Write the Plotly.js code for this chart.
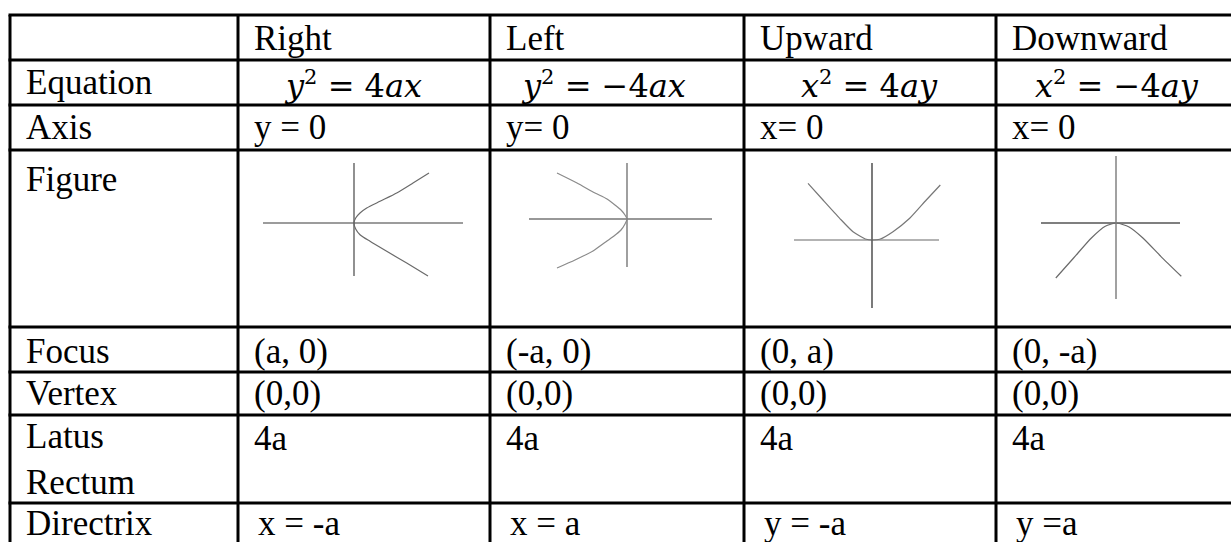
<!DOCTYPE html>
<html>
<head>
<meta charset="utf-8">
<script src="https://cdn.plot.ly/plotly-3.0.1.min.js"></script>
<style>
html,body{margin:0;padding:0;background:#fff;}
#chart{width:1231px;height:542px;}
</style>
</head>
<body>
<div id="chart"></div>
<script>
// ---------- table content ----------
const rowLabels = ["", "Equation", "Axis", "Figure", "Focus", "Vertex", "Latus<br>Rectum", "Directrix"];
const headers = ["Right", "Left", "Upward", "Downward"];
const equations = [
  "<i>y</i><sup><span style=\"font-size:21px\">2</span></sup> = 4<i>ax</i>",
  "<i>y</i><sup><span style=\"font-size:21px\">2</span></sup> = \u22124<i>ax</i>",
  "<i>x</i><sup><span style=\"font-size:21px\">2</span></sup> = 4<i>ay</i>",
  "<i>x</i><sup><span style=\"font-size:21px\">2</span></sup> = \u22124<i>ay</i>"
];
const axisVals = ["y = 0", "y= 0", "x= 0", "x= 0"];
const focusVals = ["(a, 0)", "(-a, 0)", "(0, a)", "(0, -a)"];
const vertexVals = ["(0,0)", "(0,0)", "(0,0)", "(0,0)"];
const latusVals = ["4a", "4a", "4a", "4a"];
const directrixVals = ["x = -a", "x = a", "y = -a", "y =a"];

// ---------- figure sketches (units relative to vertex, y up) ----------
const rightAxisH = {x: [-91, 109], y: [0, 0]};
const rightAxisV = {x: [0, 0], y: [60, -53]};
const rightCurveX = [75, 59, 42.7, 26, 12.7, 6, 1.7, 0, 1.7, 6, 16, 32.7, 52.7, 74];
const rightCurveY = [50, 40, 30, 21.7, 15, 10, 5, 0, -6, -11.7, -18.3, -28.3, -40, -53];

const leftAxisH = {x: [-98, 85], y: [0, 0]};
const leftAxisV = {x: [0, 0], y: [56, -48]};
const leftCurveX = [-70, -50, -32, -20, -12, -6, -2, 0, -2, -6, -13, -20, -34, -52, -70];
const leftCurveY = [46, 36, 26, 20, 14, 9, 4, 0, -5, -11, -17, -22, -32, -41, -49];

const upAxisH = {x: [-78, 67], y: [0, 0]};
const upAxisV = {x: [0, 0], y: [77, -68]};
const upCurveX = [-64, -49, -32.3, -19, -5.7, 0, 7.7, 21, 37.7, 54.3, 68.3];
const upCurveY = [56.7, 40, 21.7, 8.3, 0.7, 0, 0.7, 8.3, 21.7, 40, 55];

const downAxisH = {x: [-75, 64], y: [0, 0]};
const downAxisV = {x: [0, 0], y: [67, -76]};
const downCurveX = [-60.2, -42.4, -24.6, -10.7, 0, 13.1, 26.9, 44.8, 65.3];
const downCurveY = [-55, -35, -15, -3.3, 0, -4, -15, -33.3, -53.3];

// ---------- layout geometry (pixels) ----------
const W = 1231, H = 542;
const colX = [10, 238, 490, 744, 996, 1250];
const rowY = [15, 60, 105, 150, 327, 372, 415, 503, 548];
const rowBase = [50, 94, 139, 191, 363, 405, 450, 535];
const lineGap = 42;
const padL = 14;
const eqCenter = [353, 603, 869, 1117];
const figVertex = [[354, 223], [627, 219], [872, 240], [1116, 223]];
const FS = 35;
const textFont = {family: "Liberation Serif, Times New Roman, serif", size: FS, color: "#000"};
const eqFont = {family: "DejaVu Serif, serif", size: 32, color: "#000"};

const annotations = [];
function addText(txt, x, base, font, anchor, nLines) {
  const n = nLines || 1;
  const fs = font.size;
  const yc = base + (n - 1) * lineGap / 2 - 0.34 * fs;
  annotations.push({xref: "x", yref: "y", x: x, y: yc, text: txt, showarrow: false,
    xanchor: anchor || "left", yanchor: "middle", font: font, align: "left"});
}
// row labels
rowLabels.forEach((t, i) => {
  if (!t) return;
  addText(t, colX[0] + padL, rowBase[i], textFont, "left", t.split("<br>").length);
});
headers.forEach((t, j) => addText(t, colX[j + 1] + padL, rowBase[0], textFont));
equations.forEach((t, j) => addText(t, eqCenter[j], rowBase[1] + 2, eqFont, "center"));
axisVals.forEach((t, j) => addText(t, colX[j + 1] + padL, rowBase[2], textFont));
focusVals.forEach((t, j) => addText(t, colX[j + 1] + padL, rowBase[4], textFont));
vertexVals.forEach((t, j) => addText(t, colX[j + 1] + padL, rowBase[5], textFont));
latusVals.forEach((t, j) => addText(t, colX[j + 1] + padL, rowBase[6], textFont));
directrixVals.forEach((t, j) => addText(t, colX[j + 1] + padL + 4, rowBase[7], textFont));

// grid lines
const shapes = [];
const gridLine = {color: "#000", width: 3};
rowY.forEach(y => {
  if (y > H) return;
  shapes.push({type: "line", xref: "x", yref: "y", x0: colX[0] - 1.5, x1: W + 5, y0: y, y1: y, line: gridLine});
});
colX.forEach(x => {
  if (x > W) return;
  shapes.push({type: "line", xref: "x", yref: "y", x0: x, x1: x, y0: rowY[0], y1: H + 10, line: gridLine});
});

// ---------- traces ----------
const figs = [
  {h: rightAxisH, v: rightAxisV, cx: rightCurveX, cy: rightCurveY, hc: "#3a3a3a", vc: "#555", cc: "#6a6a6a", hw: 1.2, vw: 1.3},
  {h: leftAxisH, v: leftAxisV, cx: leftCurveX, cy: leftCurveY, hc: "#333", vc: "#777", cc: "#8a8a8a", hw: 1.2, vw: 1.4},
  {h: upAxisH, v: upAxisV, cx: upCurveX, cy: upCurveY, hc: "#9a9a9a", vc: "#222", cc: "#777", hw: 1.6, vw: 1.2},
  {h: downAxisH, v: downAxisV, cx: downCurveX, cy: downCurveY, hc: "#555", vc: "#8a8a8a", cc: "#6a6a6a", hw: 1.4, vw: 1.6}
];
const traces = [];
const layout = {
  width: W, height: H,
  margin: {l: 0, r: 0, t: 0, b: 0, pad: 0},
  paper_bgcolor: "#fff", plot_bgcolor: "rgba(0,0,0,0)",
  showlegend: false,
  xaxis: {domain: [0, 1], range: [0, W], visible: false, fixedrange: true},
  yaxis: {domain: [0, 1], range: [H, 0], visible: false, fixedrange: true},
  shapes: shapes,
  annotations: annotations
};
figs.forEach((f, i) => {
  const k = i + 2;
  const xa = "x" + k, ya = "y" + k;
  const cellL = colX[i + 1], cellR = Math.min(colX[i + 2], W);
  const cellT = rowY[3], cellB = rowY[4];
  const vx = figVertex[i][0], vy = figVertex[i][1];
  layout["xaxis" + k] = {domain: [cellL / W, cellR / W], range: [cellL - vx, cellR - vx],
    visible: false, fixedrange: true, anchor: ya};
  layout["yaxis" + k] = {domain: [1 - cellB / H, 1 - cellT / H], range: [vy - cellB, vy - cellT],
    visible: false, fixedrange: true, anchor: xa};
  const base = {type: "scatter", mode: "lines", xaxis: xa, yaxis: ya, hoverinfo: "skip", cliponaxis: false};
  traces.push(Object.assign({}, base, {x: f.h.x, y: f.h.y, line: {color: f.hc, width: f.hw}}));
  traces.push(Object.assign({}, base, {x: f.v.x, y: f.v.y, line: {color: f.vc, width: f.vw}}));
  traces.push(Object.assign({}, base, {x: f.cx, y: f.cy, line: {color: f.cc, width: 1.2, shape: "spline", smoothing: 0.6}}));
});

Plotly.newPlot("chart", traces, layout, {displayModeBar: false, staticPlot: true});
</script>
</body>
</html>
